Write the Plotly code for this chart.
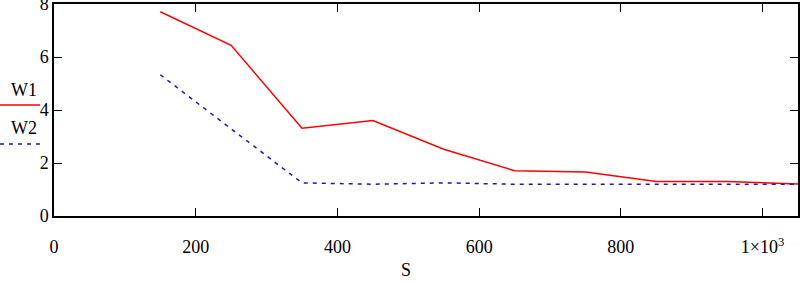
import plotly.graph_objects as go

S = [150, 250, 350, 450, 550, 650, 750, 850, 950, 1050]
W1 = [7.71, 6.44, 3.31, 3.6, 2.52, 1.71, 1.66, 1.3, 1.3, 1.21]
W2 = [5.33, 3.3, 1.25, 1.2, 1.25, 1.2, 1.2, 1.2, 1.2, 1.2]
x_ticks = [0, 200, 400, 600, 800, 1000]
x_ticklabels = ["0", "200", "400", "600", "800", "1×10<sup>3</sup>"]
y_ticks = [0, 2, 4, 6, 8]

FONT = "Liberation Serif, Times New Roman, serif"

fig = go.Figure()
fig.add_trace(go.Scatter(x=S, y=W1, mode="lines", name="W1",
                         line=dict(color="#ff0000", width=1.5)))
fig.add_trace(go.Scatter(x=S, y=W2, mode="lines", name="W2",
                         line=dict(color="#1a1ab0", width=1.5, dash="4px,5px")))

axis_common = dict(showgrid=False, zeroline=False, showline=True, linecolor="black",
                   linewidth=1.5, mirror="ticks", ticks="inside", ticklen=8,
                   tickwidth=1.2, tickcolor="black", automargin=False,
                   ticklabeloverflow="allow",
                   tickfont=dict(family=FONT, size=18, color="black"))

fig.update_xaxes(range=[0, 1050], tickvals=x_ticks, ticktext=x_ticklabels,
                 ticklabelstandoff=14, **axis_common)
fig.update_yaxes(range=[0, 8.001], tickvals=y_ticks, ticklabelstandoff=0, **axis_common)

# legend drawn manually at left
fig.add_shape(type="line", xref="paper", yref="paper", x0=-54/744, x1=-14/744,
              y0=(216-105)/212, y1=(216-105)/212, line=dict(color="#ff0000", width=1.5))
fig.add_shape(type="line", xref="paper", yref="paper", x0=-54/744, x1=-14/744,
              y0=(216-144)/212, y1=(216-144)/212,
              line=dict(color="#1a1ab0", width=1.5, dash="4px,5px"))
ann_font = dict(family=FONT, size=18, color="black")
fig.add_annotation(text="W1", xref="paper", yref="paper", x=(24-54)/744, y=(216-90)/212,
                   xanchor="center", yanchor="middle", showarrow=False, font=ann_font)
fig.add_annotation(text="W2", xref="paper", yref="paper", x=(24-54)/744, y=(216-128)/212,
                   xanchor="center", yanchor="middle", showarrow=False, font=ann_font)
fig.add_annotation(text="S", xref="paper", yref="paper", x=(406-54)/744, y=(216-270)/212,
                   xanchor="center", yanchor="middle", showarrow=False, font=ann_font)

fig.update_layout(width=800, height=284, margin=dict(l=54, r=2, t=4, b=68),
                  plot_bgcolor="white", paper_bgcolor="white", showlegend=False,
                  font=dict(family=FONT, size=18, color="black"))

fig.write_html("out.html", config={"displayModeBar": False},
               post_script="document.body.style.margin='0px';")
